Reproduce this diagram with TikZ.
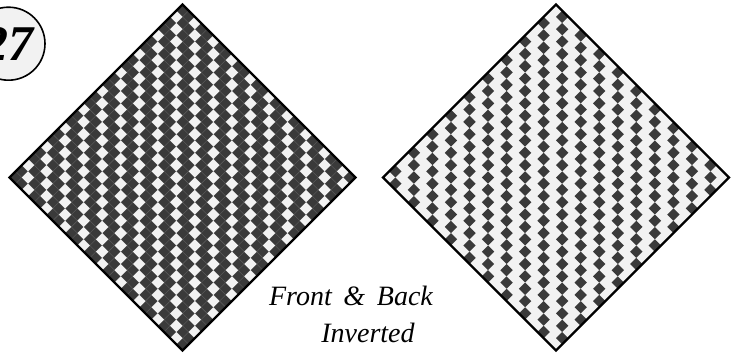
\documentclass[tikz,border=0pt]{standalone}
\usepackage{fontspec}
\setmainfont{Liberation Serif}
\definecolor{weavedark}{RGB}{58,58,58}
\definecolor{weavelight}{RGB}{242,242,242}
\definecolor{weavegrid}{RGB}{96,96,96}

\begin{document}
\begin{tikzpicture}[
	x=1pt, y=1pt,
	% Styles for the cloth cells
	darkcell/.style={fill=weavedark},
	lightcell/.style={fill=weavelight},
	gridline/.style={draw=weavegrid, line width=0.4pt},
	outline/.style={draw=black, line width=2.4pt, line join=miter},
	% Styles for the texts
	badge/.style={circle, draw=black, line width=1.6pt, fill=weavelight, minimum size=73pt, inner sep=0pt, font=\bfseries\itshape\fontsize{50}{50}\selectfont},
	caption/.style={font=\itshape\fontsize{28}{30}\selectfont, anchor=base}
	]
	\useasboundingbox (0,0) rectangle (736,356);
	
	% ==========================================
	% FRONT (dark cloth, light cells)
	% ==========================================
	\begin{scope}[shift={(182.5,351.5)}, x={(6.179pt,-6.179pt)}, y={(-6.179pt,-6.179pt)}]
		\fill[darkcell] (0,0) -- (28,0) -- (28,28) -- (0,28) -- cycle;
		\foreach \k in {1,...,27} {
			\draw[gridline] (\k,0) -- (\k,28);
			\draw[gridline] (0,\k) -- (28,\k);
		}
		\foreach \u in {0,...,27} {
			\foreach \v in {0,...,27} {
				\pgfmathtruncatemacro{\cpos}{mod(\v-\u+30,3)}
				\ifnum\cpos=1
					\fill[lightcell] (\u,\v) -- ++(1,0) -- ++(0,1) -- ++(-1,0) -- cycle;
				\fi
			}
		}
		\draw[outline] (0,0) -- (28,0) -- (28,28) -- (0,28) -- cycle;
	\end{scope}
	
	% ==========================================
	% BACK (light cloth, dark cells)
	% ==========================================
	\begin{scope}[shift={(556,351.5)}, x={(6.179pt,-6.179pt)}, y={(-6.179pt,-6.179pt)}]
		\fill[lightcell] (0,0) -- (28,0) -- (28,28) -- (0,28) -- cycle;
		\foreach \u in {0,...,27} {
			\foreach \v in {0,...,27} {
				\pgfmathtruncatemacro{\cpos}{mod(\u-\v+30,3)}
				\ifnum\cpos=1
					\fill[darkcell] (\u,\v) -- ++(1,0) -- ++(0,1) -- ++(-1,0) -- cycle;
				\fi
			}
		}
		\draw[outline] (0,0) -- (28,0) -- (28,28) -- (0,28) -- cycle;
	\end{scope}
	
	% Number badge
	\node[badge] (num) at (8.5,312.3) {27};
	
	% Caption
	\node[caption] (front) at (351,50) {Front \,\&\, Back};
	\node[caption] (inv) at (368,13.3) {Inverted};
	
\end{tikzpicture}
\end{document}
